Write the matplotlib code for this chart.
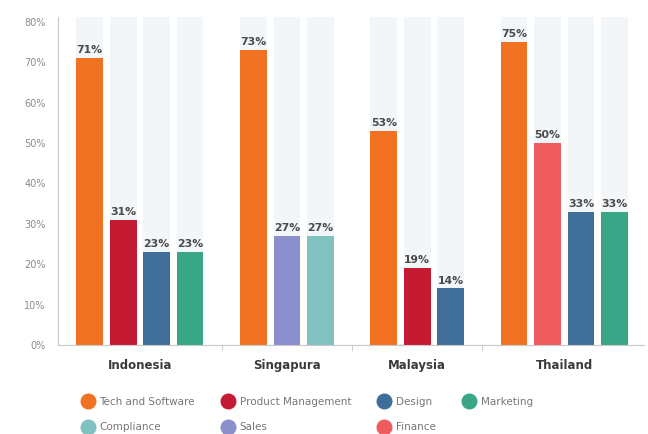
import numpy as np
import matplotlib.pyplot as plt
from matplotlib.lines import Line2D

plt.rcParams['font.family'] = ['DejaVu Sans']

countries = ['Indonesia', 'Singapura', 'Malaysia', 'Thailand']
indonesia_roles = ['Tech and Software', 'Product Management', 'Design', 'Marketing']
indonesia_vals = [71, 31, 23, 23]
singapura_roles = ['Tech and Software', 'Sales', 'Compliance']
singapura_vals = [73, 27, 27]
malaysia_roles = ['Tech and Software', 'Product Management', 'Design']
malaysia_vals = [53, 19, 14]
thailand_roles = ['Tech and Software', 'Finance', 'Design', 'Marketing']
thailand_vals = [75, 50, 33, 33]
yticks = [0, 10, 20, 30, 40, 50, 60, 70, 80]

colors = {
    'Tech and Software': '#f27224',
    'Product Management': '#c41a32',
    'Design': '#3f6f99',
    'Marketing': '#3aa688',
    'Compliance': '#80c2c0',
    'Sales': '#8b8fcc',
    'Finance': '#ef5c60',
}
legend_order = ['Tech and Software', 'Compliance', 'Product Management', 'Sales',
                'Design', 'Finance', 'Marketing']  # column-major for 4 cols

groups = [(indonesia_roles, indonesia_vals), (singapura_roles, singapura_vals),
          (malaysia_roles, malaysia_vals), (thailand_roles, thailand_vals)]

fig = plt.figure(figsize=(6.48, 4.34), dpi=100)
ax = fig.add_axes([0.0895, 0.205, 0.905, 0.756])

gap = 1.9
width = 0.8
ytop = 81.2
start = 0.0
centers = []
bounds = []
for gi, (roles, vals) in enumerate(groups):
    x = start + np.arange(len(roles))
    centers.append(x.mean())
    ax.bar(x, [ytop] * len(x), width=width, color='#f2f6f9', zorder=0)
    for xi, r, v in zip(x, roles, vals):
        ax.bar(xi, v, width=width, color=colors[r], zorder=2)
        ax.text(xi, v + 0.7, f'{v}%', ha='center', va='bottom', fontsize=7.8,
                fontweight='bold', color='#4a4a4a', zorder=3)
    if gi < len(groups) - 1:
        bounds.append(x[-1] + gap / 2)
    start = x[-1] + gap

ax.set_xlim(-0.95, 16.6)
ax.set_ylim(0, ytop)
ax.set_yticks(yticks)
ax.set_yticklabels([f'{t}%' for t in yticks], fontsize=7, color='#8a8a8a')
ax.tick_params(axis='y', length=0, pad=9)
ax.set_xticks(centers)
ax.set_xticklabels(countries, fontsize=8.5, fontweight='bold', color='#3a3a3a')
ax.tick_params(axis='x', length=0, pad=10)
ax.set_xticks(bounds, minor=True)
ax.tick_params(axis='x', which='minor', length=4, color='#c8c8c8')
for s in ['top', 'right']:
    ax.spines[s].set_visible(False)
ax.spines['left'].set_color('#c8c8c8')
ax.spines['bottom'].set_color('#c8c8c8')

handles = [Line2D([], [], marker='o', linestyle='', markersize=10.5,
                  markerfacecolor=colors[r], markeredgecolor=colors[r]) for r in legend_order]
fig.legend(handles, legend_order, loc='center', bbox_to_anchor=(0.474, 0.045), ncol=4,
           frameon=False, fontsize=7.5, labelcolor='#777777', handletextpad=0.5,
           columnspacing=2.6, labelspacing=1.5, handlelength=1.2)

fig.savefig('out.png', dpi=100)
